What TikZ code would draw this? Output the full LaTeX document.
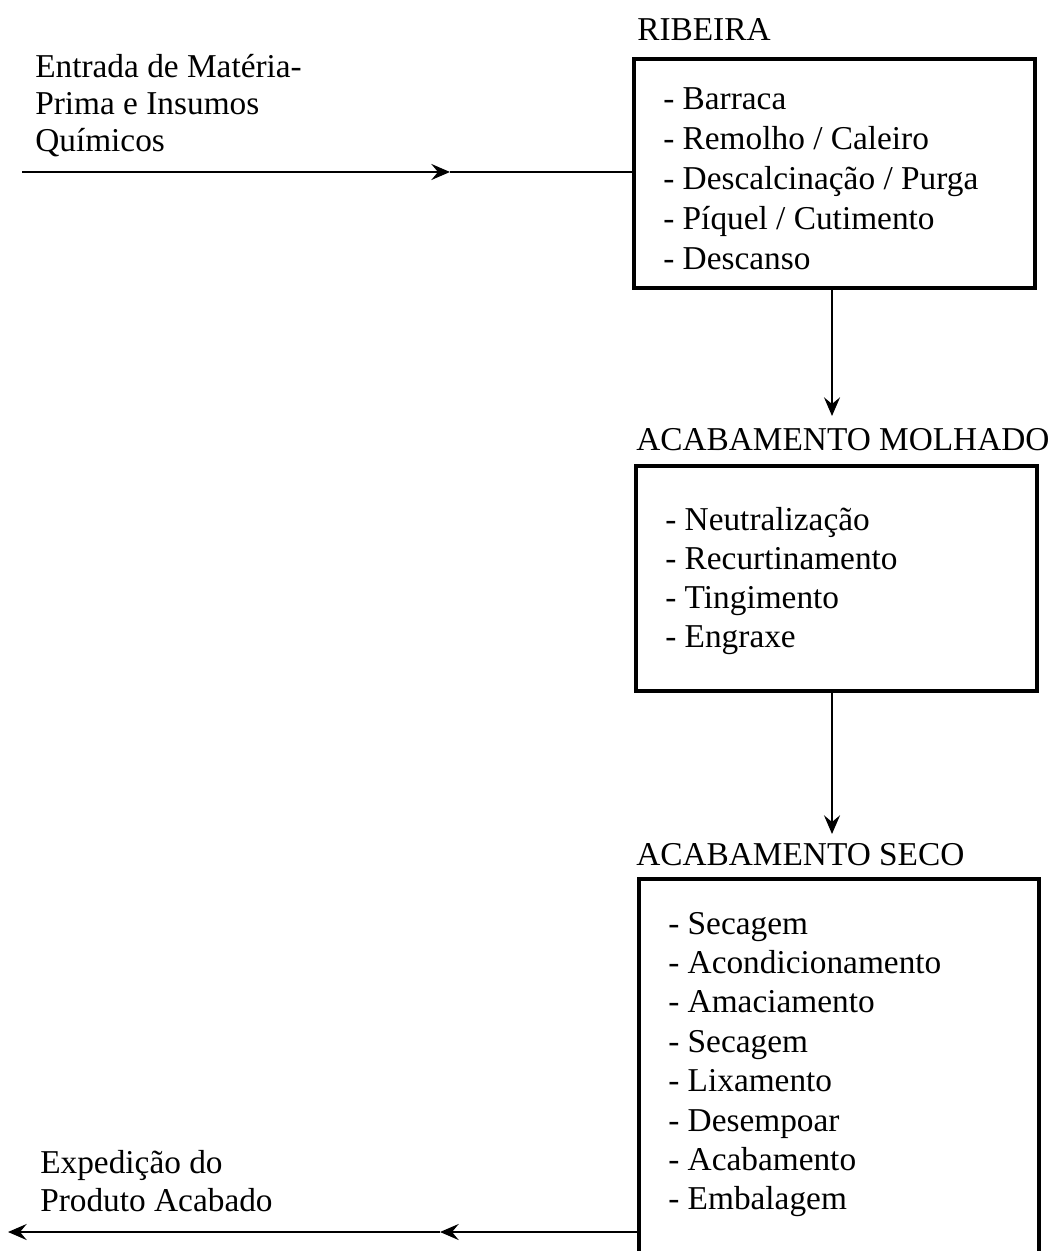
\documentclass[tikz,border=0pt]{standalone}
\usepackage{fontspec}
\setmainfont{Liberation Serif}
\usetikzlibrary{arrows.meta,fit}
\begin{document}
\begin{tikzpicture}[x=0.75pt,y=-0.75pt,
  txt/.style={font=\fontsize{25}{30}\selectfont, anchor=base west, inner sep=0pt},
  box/.style={draw, line width=2.5pt, inner sep=0pt},
  conn/.style={line width=1.7pt},
  tip/.style={-{Stealth[length=14pt,width=12pt,inset=5pt]}}]
\useasboundingbox (0,0) rectangle (1051,1251);
\clip (0,0) rectangle (1051,1251);

% headings
\node[txt] (h1) at (637,41) {RIBEIRA};
\node[txt] (h2) at (636,450) {ACABAMENTO MOLHADO};
\node[txt] (h3) at (636,865) {ACABAMENTO SECO};

% boxes
\node[box, fit={(634,59) (1035,288)}] (ribeira) {};
\node[box, fit={(636,466) (1037,691)}] (molhado) {};
\node[box, fit={(639,879) (1039,1300)}] (seco) {};

% box contents
\foreach \t [count=\i] in {- Barraca, - Remolho / Caleiro, - Descalcinação / Purga, - Píquel / Cutimento, - Descanso}
  \node[txt] (ra\i) at (663,{110+39.8*(\i-1)}) {\t};
\foreach \t [count=\i] in {- Neutralização, - Recurtinamento, - Tingimento, - Engraxe}
  \node[txt] (mo\i) at (665,{530+39.3*(\i-1)}) {\t};
\foreach \t [count=\i] in {- Secagem, - Acondicionamento, - Amaciamento, - Secagem, - Lixamento, - Desempoar, - Acabamento, - Embalagem}
  \node[txt] (se\i) at (668,{934+39.4*(\i-1)}) {\t};

% side texts
\node[txt] (in1) at (35,78) {Entrada de Matéria-};
\node[txt] (in2) at (35,115) {Prima e Insumos};
\node[txt] (in3) at (35,152) {Químicos};
\node[txt] (out1) at (40,1173) {Expedição do};
\node[txt] (out2) at (40,1211) {Produto Acabado};

% connectors
\coordinate (inA) at (22,172);
\coordinate (inM) at (450,172);
\draw[conn,tip] (inA) -- (inM);
\draw[conn] (inM) -- (inA -| ribeira.west);

\coordinate (t1) at (832,416);
\draw[conn,tip] (t1 |- ribeira.south) -- (t1);
\coordinate (t2) at (832,834);
\draw[conn,tip] (t2 |- molhado.south) -- (t2);

\coordinate (outM) at (440,1232);
\coordinate (outA) at (8,1232);
\draw[conn,tip] (outM -| seco.west) -- (outM);
\draw[conn,tip] (outM) -- (outA);
\end{tikzpicture}
\end{document}
